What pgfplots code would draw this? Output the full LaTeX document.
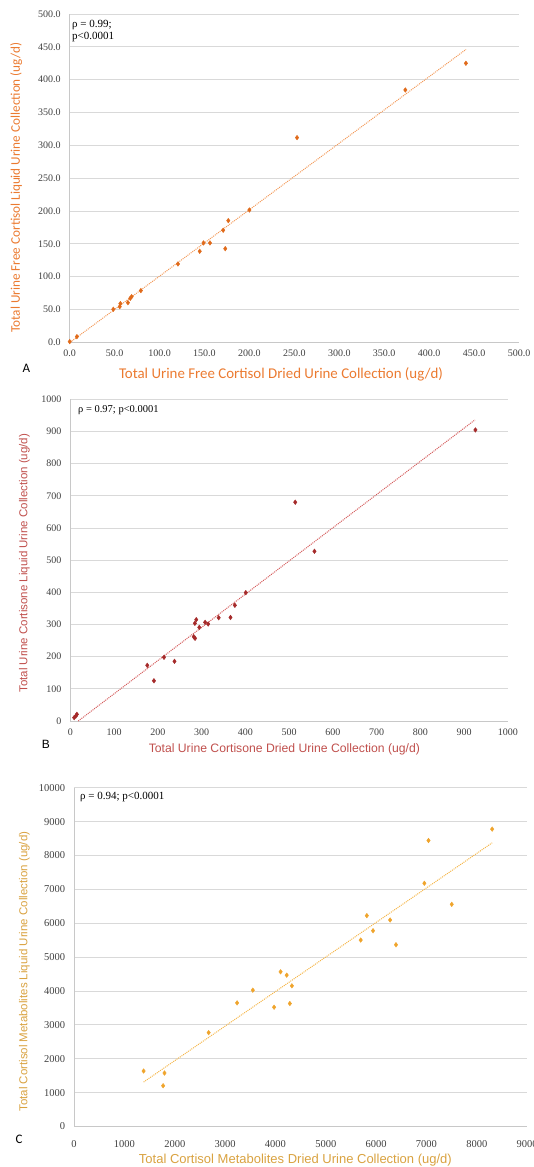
\documentclass[border=0pt]{standalone}
\usepackage{fontspec}
\setmainfont{Liberation Serif}
\newfontfamily\carlito{Carlito}
\newfontfamily\arialf{Liberation Sans}
\usepackage{pgfplots}
\pgfplotsset{compat=1.18}
\definecolor{gridc}{HTML}{D9D9D9}
\definecolor{axisc}{HTML}{C8C8C8}
\definecolor{tickc}{HTML}{404040}
\definecolor{markA}{HTML}{E06A1A}
\definecolor{lineA}{HTML}{F39A5A}
\definecolor{labA}{HTML}{EB7A30}
\definecolor{markB}{HTML}{A52A2A}
\definecolor{lineB}{HTML}{D45A5A}
\definecolor{labB}{HTML}{C0504D}
\definecolor{markC}{HTML}{EFA42C}
\definecolor{lineC}{HTML}{F5B547}
\definecolor{labC}{HTML}{D9A240}
\pgfplotsset{
  excel/.style={
    scale only axis,
    clip=false,
    axis x line*=bottom, axis y line*=left,
    axis line style={-, draw=axisc, line width=0.8pt},
    major tick length=0pt,
    ymajorgrids, grid style={gridc, line width=0.8pt},
    tick label style={font=\rmfamily\fontsize{10}{12}\selectfont, text=tickc},
    /pgf/number format/assume math mode=true,
    scaled ticks=false,
    xticklabel style={yshift=-4.5pt},
    yticklabel style={xshift=-5.5pt},
  }
}
\begin{document}
\begin{tikzpicture}
\useasboundingbox (0,0) rectangle (533pt,1167pt);
% ---------------- Panel A ----------------
\begin{axis}[excel, at={(69.7pt,824.7pt)}, anchor=south west,
  width=449.3pt, height=328.3pt,
  xmin=0, xmax=500, ymin=0, ymax=500,
  xtick={0,50,...,500}, ytick={0,50,...,500},
  xticklabels={0.0,50.0,100.0,150.0,200.0,250.0,300.0,350.0,400.0,450.0,500.0},
  yticklabels={0.0,50.0,100.0,150.0,200.0,250.0,300.0,350.0,400.0,450.0,500.0}]
\addplot[lineA, densely dotted, line width=1pt] coordinates {(0.5,0) (441,446)};
\addplot[only marks, mark=diamond*, mark size=2.3pt, color=markA] table {
x y
0 1.0
8.0 8.6
48.5 50.3
55.7 54.3
56.4 58.9
64.8 60.4
67.4 67.0
68.9 69.5
79.2 78.7
120.5 119.3
144.7 138.6
148.9 151.3
156.1 151.3
170.8 170.6
173.1 142.6
176.5 185.3
200.0 201.5
253.0 311.7
373.5 384.3
440.9 424.9
};
\end{axis}
\node[anchor=west, font=\fontsize{11}{13}\selectfont, inner sep=0] at (72pt,1142pt) {ρ = 0.99;};
\node[anchor=west, font=\fontsize{11}{13}\selectfont, inner sep=0] at (72pt,1130pt) {p<0.0001};
\node[font=\carlito\fontsize{14.9}{16}\selectfont, text=labA] at (281pt,793pt) {Total Urine Free Cortisol Dried Urine Collection (ug/d)};
\node[rotate=90, font=\carlito\fontsize{13.2}{15}\selectfont, text=labA] at (16.3pt,979.5pt) {Total Urine Free Cortisol Liquid Urine Collection (ug/d)};
\node[font=\carlito\fontsize{13}{15}\selectfont] at (26.5pt,799pt) {A};
% ---------------- Panel B ----------------
\begin{axis}[excel, at={(70.4pt,446pt)}, anchor=south west,
  width=437.4pt, height=321.7pt,
  xmin=0, xmax=1000, ymin=0, ymax=1000,
  xtick={0,100,...,1000}, ytick={0,100,...,1000},
  xticklabels={0,100,200,300,400,500,600,700,800,900,1000},
  yticklabels={0,100,200,300,400,500,600,700,800,900,1000}]
\addplot[lineB, densely dotted, line width=1pt] coordinates {(18,0) (925,936)};
\addplot[only marks, mark=diamond*, mark size=2.3pt, color=markB] table {
x y
8.6 10.4
12.4 15.5
14.8 20.7
175.7 173
191 125
214 198
238 185.5
282 262
285 257
284.6 303.6
287.7 315
294.7 291
308 306.7
315 301.5
339 321
366 322
376 359.6
401 399
514 680
558 527.5
926 904.7
};
\end{axis}
\node[anchor=west, font=\fontsize{10.5}{12}\selectfont, inner sep=0] at (78pt,757pt) {ρ = 0.97; p<0.0001};
\node[font=\arialf\fontsize{12.2}{14}\selectfont, text=labB] at (284.4pt,418pt) {Total Urine Cortisone Dried Urine Collection (ug/d)};
\node[rotate=90, font=\arialf\fontsize{11.5}{13}\selectfont, text=labB] at (24.5pt,603.7pt) {Total Urine Cortisone Liquid Urine Collection (ug/d)};
\node[font=\arialf\fontsize{12}{14}\selectfont] at (46pt,423pt) {B};
% ---------------- Panel C ----------------
\begin{axis}[excel, at={(74.1pt,40.5pt)}, anchor=south west,
  width=453pt, height=338.8pt,
  xmin=0, xmax=9000, ymin=0, ymax=10000,
  tick label style={font=\rmfamily\fontsize{10.5}{12}\selectfont, text=tickc},
  xtick={0,1000,...,9000}, ytick={0,1000,...,10000},
  xticklabels={0,1000,2000,3000,4000,5000,6000,7000,8000,9000},
  yticklabels={0,1000,2000,3000,4000,5000,6000,7000,8000,9000,10000},
  xticklabel style={yshift=-5.5pt}]
\addplot[lineC, densely dotted, line width=1pt] coordinates {(1381,1312) (8306,8373)};
\addplot[only marks, mark=diamond*, mark size=2.3pt, color=markC] table {
x y
1381 1637
1769 1203
1796 1578
2673 2771
3238 3649
3551 4024
3973 3521
4102 4566
4224 4467
4286 3629
4327 4152
5694 5503
5816 6223
5939 5779
6279 6095
6395 5365
6959 7179
7041 8442
7503 6558
8306 8777
};
\end{axis}
\node[anchor=west, font=\fontsize{11}{13}\selectfont, inner sep=0] at (80pt,369.7pt) {ρ = 0.94; p<0.0001};
\node[font=\arialf\fontsize{13}{15}\selectfont, text=labC] at (295.4pt,7pt) {Total Cortisol Metabolites Dried Urine Collection (ug/d)};
\node[rotate=90, font=\arialf\fontsize{11.5}{13}\selectfont, text=labC] at (24.5pt,195.3pt) {Total Cortisol Metabolites Liquid Urine Collection (ug/d)};
\node[font=\carlito\fontsize{13}{15}\selectfont] at (19pt,28pt) {C};
\end{tikzpicture}
\end{document}
